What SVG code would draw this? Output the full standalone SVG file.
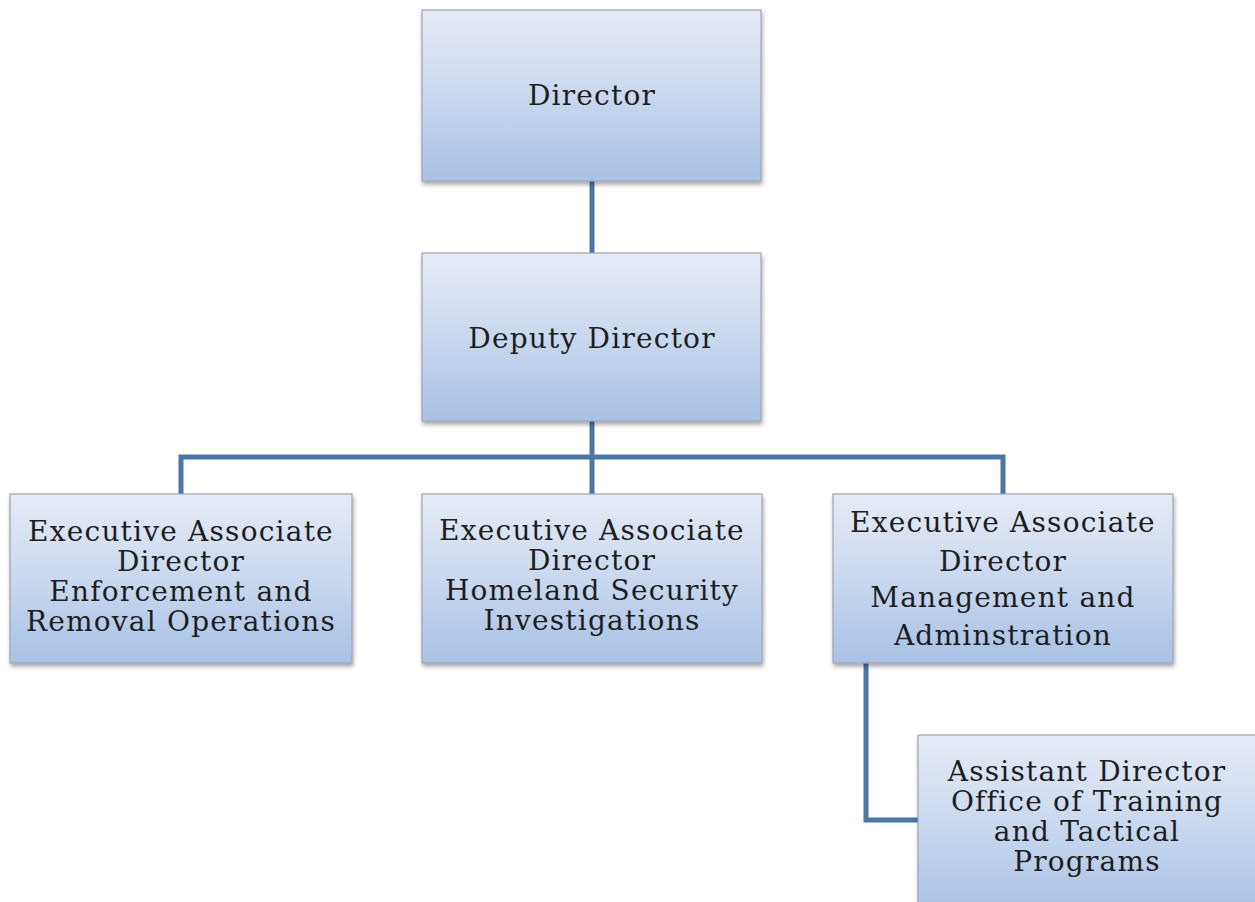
<svg xmlns="http://www.w3.org/2000/svg" width="1255" height="902" viewBox="0 0 1255 902">
<defs>
<linearGradient id="g" x1="0" y1="0" x2="0" y2="1">
<stop offset="0" stop-color="#e6ebf6"/>
<stop offset="0.5" stop-color="#c9d8ef"/>
<stop offset="1" stop-color="#a8c1e5"/>
</linearGradient>
<filter id="sh" x="-5%" y="-5%" width="112%" height="115%">
<feGaussianBlur in="SourceAlpha" stdDeviation="2"/>
<feOffset dx="1" dy="3"/>
<feComponentTransfer><feFuncA type="linear" slope="0.35"/></feComponentTransfer>
<feMerge><feMergeNode/><feMergeNode in="SourceGraphic"/></feMerge>
</filter>
</defs>
<style>
.box{fill:url(#g);stroke:#9ea3b0;stroke-width:1.2;filter:url(#sh)}
.t{font-family:"DejaVu Serif","Liberation Serif",serif;font-size:28px;letter-spacing:1.2px;fill:#1e1e1e;text-anchor:middle}
.c{fill:none;stroke:#4a74aa;stroke-width:5;stroke-linejoin:miter}
</style>
<rect width="1255" height="902" fill="#ffffff"/>
<g id="connectors">
<path class="c" d="M592,181 V253"/>
<path class="c" d="M592,421 V494"/>
<path class="c" d="M181,494 V457 H1003 V494"/>
<path class="c" d="M866,663 V820 H918"/>
</g>
<g id="director">
<rect class="box" x="422" y="10" width="339" height="171"/>
<text class="t" x="592" y="105">Director</text>
</g>
<g id="deputy">
<rect class="box" x="422" y="253" width="339" height="168"/>
<text class="t" x="592" y="348">Deputy Director</text>
</g>
<g id="ead-ero">
<rect class="box" x="10" y="494" width="342" height="169"/>
<text class="t" x="181" y="541">Executive Associate</text>
<text class="t" x="181" y="571">Director</text>
<text class="t" x="181" y="601">Enforcement and</text>
<text class="t" x="181" y="631">Removal Operations</text>
</g>
<g id="ead-hsi">
<rect class="box" x="422" y="494" width="340" height="169"/>
<text class="t" x="592" y="540">Executive Associate</text>
<text class="t" x="592" y="570">Director</text>
<text class="t" x="592" y="600">Homeland Security</text>
<text class="t" x="592" y="630">Investigations</text>
</g>
<g id="ead-ma">
<rect class="box" x="833" y="494" width="340" height="169"/>
<text class="t" x="1003" y="532">Executive Associate</text>
<text class="t" x="1003" y="571">Director</text>
<text class="t" x="1003" y="607">Management and</text>
<text class="t" x="1003" y="645">Adminstration</text>
</g>
<g id="ad-ottp">
<rect class="box" x="918" y="735" width="345" height="180"/>
<text class="t" x="1087" y="781">Assistant Director</text>
<text class="t" x="1087" y="811">Office of Training</text>
<text class="t" x="1087" y="841">and Tactical</text>
<text class="t" x="1087" y="871">Programs</text>
</g>
</svg>
